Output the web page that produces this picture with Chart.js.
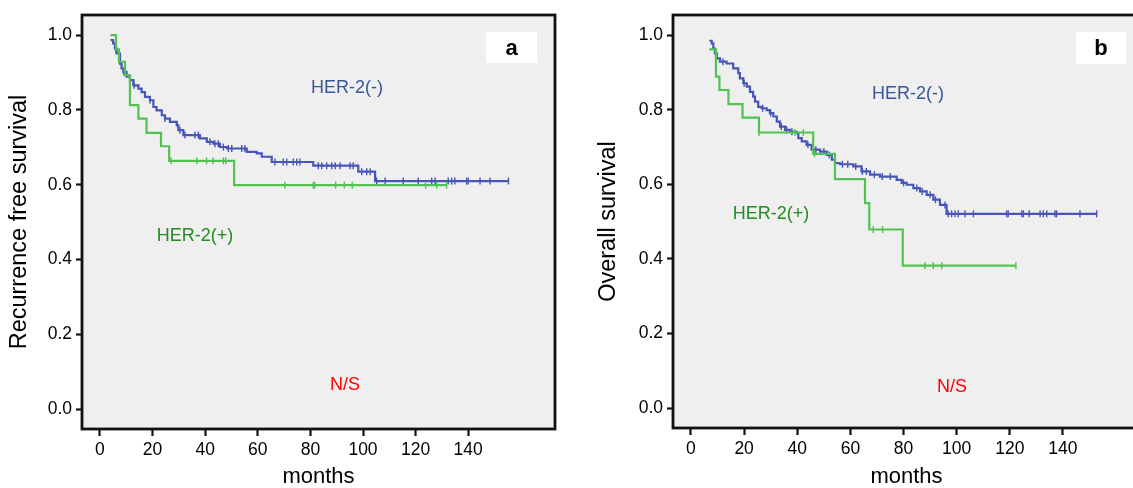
<!DOCTYPE html>
<html>
<head>
<meta charset="utf-8">
<script src="https://cdn.jsdelivr.net/npm/chart.js@4.4.1/dist/chart.umd.min.js"></script>
<style>
  html, body { margin: 0; padding: 0; background: #fff; overflow: hidden; width: 1133px; height: 488px; }
  #wrapA { position: absolute; left: 0; top: 0; width: 566px; height: 488px; }
  #wrapB { position: absolute; left: 566px; top: 0; width: 584px; height: 488px; }
</style>
</head>
<body>
<div id="wrapA"><canvas id="chartA"></canvas></div>
<div id="wrapB"><canvas id="chartB"></canvas></div>
<script>
// ─── Data ───────────────────────────────────────────
const xTicks = [0, 20, 40, 60, 80, 100, 120, 140];
const yTicks = [0.0, 0.2, 0.4, 0.6, 0.8, 1.0];

// panel a: recurrence free survival
const aNegT = [4, 5, 5.7, 6.3, 7.6, 8.2, 8.9, 10.1, 11.4, 12.7, 14.6, 15.8, 17.1, 19.0, 20.3, 21.5, 23.5, 24.7, 26.6, 29.2, 29.8, 31.7, 38.0, 40.6, 43.1, 45.6, 48.2, 55.8, 59.6, 61.5, 65.3, 81.1, 98.2, 104.6];
const aNegS = [0.987, 0.978, 0.964, 0.951, 0.924, 0.911, 0.902, 0.889, 0.880, 0.866, 0.857, 0.848, 0.835, 0.826, 0.808, 0.799, 0.786, 0.777, 0.768, 0.759, 0.746, 0.733, 0.724, 0.715, 0.710, 0.701, 0.697, 0.688, 0.684, 0.675, 0.661, 0.651, 0.635, 0.610];
const aNegCens = [6, 9, 13, 19, 24.7, 30.4, 32.3, 36.1, 37.4, 41.8, 43.7, 45, 46.9, 48.8, 50.1, 53.9, 55.1, 66.5, 69.7, 71, 73.5, 74.8, 76, 83, 84.3, 86.2, 88.1, 89.4, 91.3, 95.1, 96.3, 99.5, 101.4, 102.7, 105.2, 108.4, 115.3, 121, 126.1, 127.4, 132.4, 133.7, 134.9, 139.4, 140, 144.5, 148.3, 155.3];
const aPosT = [4, 6.1, 7.2, 9.5, 11.4, 14.6, 17.7, 23.2, 26.3, 51];
const aPosS = [1.0, 0.962, 0.929, 0.893, 0.813, 0.777, 0.739, 0.703, 0.664, 0.599];
const aPosCens = [27, 36.8, 40.5, 43, 46.9, 47.8, 70.3, 81.1, 81.7, 89.6, 92.9, 95.9, 123.8, 128, 131.8];

// panel b: overall survival
const bNegT = [6.9, 7.8, 8.4, 9.0, 9.7, 10.9, 13.4, 15.9, 17.8, 18.4, 19.7, 21.0, 22.2, 23.4, 24.1, 25.3, 26.6, 28.5, 29.7, 31.0, 32.3, 33.5, 35.4, 37.3, 39.8, 40.4, 41.7, 43.5, 45.4, 48.6, 51.1, 53.0, 54.2, 56.1, 61.1, 64.2, 67.4, 71.1, 77.4, 79.3, 81.2, 83.7, 86.2, 88.7, 91.2, 93.7, 96.2];
const bNegS = [0.985, 0.978, 0.964, 0.951, 0.938, 0.929, 0.924, 0.911, 0.898, 0.884, 0.871, 0.862, 0.848, 0.835, 0.822, 0.808, 0.804, 0.799, 0.791, 0.782, 0.768, 0.755, 0.746, 0.741, 0.737, 0.724, 0.715, 0.706, 0.693, 0.688, 0.679, 0.666, 0.657, 0.654, 0.648, 0.635, 0.626, 0.621, 0.612, 0.604, 0.599, 0.590, 0.581, 0.572, 0.559, 0.545, 0.521];
const bNegCens = [12, 20, 27, 30, 34, 36, 38, 44, 47, 50, 52, 57, 59, 62, 64.5, 66, 69, 72, 75, 80, 85, 87, 90, 92, 95.6, 96.8, 98.1, 99.4, 100.6, 103.1, 106.3, 118.8, 119.4, 124.5, 125.1, 127.3, 131.4, 132.6, 133.9, 137.0, 137.6, 146.4, 152.7];
const bPosT = [6.9, 9.4, 10.7, 14.1, 19.4, 25.6, 46.0, 54.2, 65.5, 67.1, 79.7];
const bPosS = [0.962, 0.889, 0.853, 0.815, 0.779, 0.739, 0.682, 0.614, 0.550, 0.479, 0.382];
const bPosCens = [25.6, 39.1, 42.3, 46.5, 68.6, 72.1, 88.1, 91.2, 94.4, 122.3];

// ─── Helpers ────────────────────────────────────────
const FONT = "'Liberation Sans', Arial, Helvetica, sans-serif";
const BLUE = '#4756b6';
const GREEN = '#52c252';

function survAt(T, S, t) {
  let s = S[0];
  for (let i = 0; i < T.length; i++) if (T[i] <= t) s = S[i];
  return s;
}

function kmLine(T, S, cens, color) {
  const pts = T.map((t, i) => ({ x: t, y: S[i] }));
  pts.push({ x: Math.max(...cens), y: S[S.length - 1] });
  return {
    type: 'line', data: pts, stepped: true, borderColor: color, borderWidth: 2.2,
    pointRadius: 0, fill: false
  };
}

function kmCens(T, S, cens, color) {
  return {
    type: 'scatter', data: cens.map(t => ({ x: t, y: survAt(T, S, t) })),
    pointStyle: 'line', rotation: 90, pointRadius: 3.5, borderColor: color,
    borderWidth: 1.4, showLine: false
  };
}

// ─── Plot decoration ────────────────────────────────
const panelDeco = {
  id: 'panelDeco',
  beforeDraw(chart) {
    const { ctx, chartArea: a } = chart;
    ctx.save();
    ctx.fillStyle = '#efefef';
    ctx.fillRect(a.left, a.top, a.right - a.left, a.bottom - a.top);
    ctx.restore();
  },
  afterDraw(chart, args, opts) {
    const { ctx, chartArea: a, scales } = chart;
    ctx.save();
    ctx.strokeStyle = '#111';
    ctx.lineWidth = 2.8;
    ctx.strokeRect(a.left, a.top, a.right - a.left, a.bottom - a.top);

    ctx.textAlign = 'center';
    ctx.textBaseline = 'middle';
    ctx.font = '18px ' + FONT;
    opts.labels.forEach(l => {
      ctx.fillStyle = l.color;
      ctx.fillText(l.text, scales.x.getPixelForValue(l.x), scales.y.getPixelForValue(l.y));
    });

    const b = opts.box;
    const bx = a.right - b.right - b.w;
    const by = a.top + b.top;
    ctx.fillStyle = '#fff';
    ctx.fillRect(bx, by, b.w, b.h);
    ctx.fillStyle = '#000';
    ctx.font = 'bold 22px ' + FONT;
    ctx.fillText(opts.letter, bx + b.w / 2, by + b.h / 2 + 1);
    ctx.restore();
  }
};

function buildChart(id, cfg) {
  return new Chart(document.getElementById(id), {
    data: { datasets: cfg.datasets },
    options: {
      responsive: true, maintainAspectRatio: false, animation: false, devicePixelRatio: 1,
      layout: { padding: { top: 15, right: cfg.padRight, left: 0, bottom: 0 } },
      plugins: {
        legend: { display: false }, tooltip: { enabled: false },
        panelDeco: { letter: cfg.letter, box: cfg.box, labels: cfg.labels }
      },
      scales: {
        x: {
          type: 'linear', min: cfg.xMin, max: cfg.xMax,
          afterBuildTicks: s => { s.ticks = xTicks.map(v => ({ value: v })); },
          afterFit: s => { s.height = cfg.xHeight; },
          border: { display: false },
          grid: { drawOnChartArea: false, drawTicks: true, tickLength: 7, tickWidth: 2.2, tickColor: '#111' },
          ticks: { color: '#000', font: { family: FONT, size: 17.5 }, padding: 4, maxRotation: 0 },
          title: {
            display: true, text: 'months', color: '#000',
            font: { family: FONT, size: 22, lineHeight: 1 }, padding: { top: 0, bottom: 0 }
          }
        },
        y: {
          type: 'linear', min: -0.053, max: 1.054,
          afterBuildTicks: s => { s.ticks = yTicks.map(v => ({ value: v })); },
          afterFit: s => { s.width = cfg.yWidth; },
          border: { display: false },
          grid: { drawOnChartArea: false, drawTicks: true, tickLength: 6, tickWidth: 2.2, tickColor: '#111' },
          ticks: { color: '#000', font: { family: FONT, size: 17.5 }, padding: 4, callback: v => v.toFixed(1) },
          title: {
            display: true, text: cfg.yTitle, color: '#000',
            font: { family: FONT, size: 23.5, lineHeight: 1 }, padding: { top: cfg.yTitlePad, bottom: 0 }
          }
        }
      }
    },
    plugins: [panelDeco]
  });
}

// ─── Boot ───────────────────────────────────────────
buildChart('chartA', {
  datasets: [
    kmLine(aPosT, aPosS, aPosCens, GREEN), kmCens(aPosT, aPosS, aPosCens, GREEN),
    kmLine(aNegT, aNegS, aNegCens, BLUE), kmCens(aNegT, aNegS, aNegCens, BLUE)
  ],
  xMin: -6.84, xMax: 173.0, xHeight: 59, yWidth: 82, padRight: 11, yTitlePad: 8,
  yTitle: 'Recurrence free survival', letter: 'a',
  box: { right: 18, top: 17, w: 51, h: 31 },
  labels: [
    { text: 'HER-2(-)', x: 93.9, y: 0.858, color: '#36579a' },
    { text: 'HER-2(+)', x: 36.1, y: 0.463, color: '#228b22' },
    { text: 'N/S', x: 93.2, y: 0.064, color: '#ff0000' }
  ]
});

buildChart('chartB', {
  datasets: [
    kmLine(bPosT, bPosS, bPosCens, GREEN), kmCens(bPosT, bPosS, bPosCens, GREEN),
    kmLine(bNegT, bNegS, bNegCens, BLUE), kmCens(bNegT, bNegS, bNegCens, BLUE)
  ],
  xMin: -6.77, xMax: 169.0, xHeight: 60, yWidth: 107, padRight: 10, yTitlePad: 31,
  yTitle: 'Overall survival', letter: 'b',
  box: { right: 14, top: 17, w: 50, h: 32 },
  labels: [
    { text: 'HER-2(-)', x: 81.7, y: 0.842, color: '#36579a' },
    { text: 'HER-2(+)', x: 30.1, y: 0.521, color: '#228b22' },
    { text: 'N/S', x: 98.2, y: 0.056, color: '#ff0000' }
  ]
});
</script>
</body>
</html>
